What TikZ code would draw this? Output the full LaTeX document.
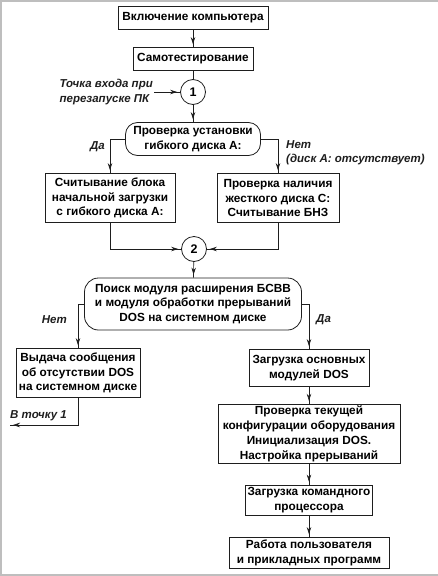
\documentclass[tikz,border=0pt]{standalone}
\usepackage{fontspec}
\setmainfont{Liberation Sans}
\usepackage{tikz}
\usetikzlibrary{arrows.meta,decorations.markings,positioning,calc}
\definecolor{frameGray}{RGB}{190,190,190}
\definecolor{lineDark}{RGB}{30,30,30}
\tikzset{
  stepbox/.style={
    rectangle, draw=lineDark, line width=0.8pt, fill=white,
    align=center, inner sep=2pt, font=\fontsize{11.8}{14.8}\selectfont\bfseries
  },
  askbox/.style={
    stepbox, rounded corners=12pt
  },
  joint/.style={
    circle, draw=lineDark, line width=0.8pt, minimum size=25pt, inner sep=0pt,
    font=\fontsize{12.5}{14}\selectfont\bfseries
  },
  flowArrow/.style={
    draw=lineDark, line width=0.6pt,
    decoration={markings, mark=at position -3pt with {\arrow{Stealth[length=7pt,width=4.5pt]}}},
    postaction={decorate}
  },
  flowLine/.style={draw=lineDark, line width=0.6pt}
}

\begin{document}
\begin{tikzpicture}[
    x=1pt, y=-1pt,
    lbl/.style={font=\fontsize{11.5}{14.5}\selectfont\bfseries\itshape, color=lineDark, inner sep=1pt}
  ]
    \useasboundingbox (0,0) rectangle (438,576);
    \draw[frameGray, line width=1.5pt] (438,0.75) -- (0.75,0.75) -- (0.75,575) -- (438,575);

    % top of the chain
    \node[stepbox, minimum width=150pt, minimum height=23pt] (poweron) at (193,18) {Включение компьютера};
    \node[stepbox, minimum width=120pt, minimum height=23pt] (selftest) at (193,59) {Самотестирование};
    \node[joint] (j1) at (193,92) {1};
    \node[lbl, align=left, anchor=east] (entry) at (154,92) {Точка входа при\\перезапуске ПК};
    \draw[flowArrow] (poweron) -- (selftest);
    \draw[flowLine] (selftest) -- (j1);
    \draw[flowArrow] (entry) -- (j1);

    % floppy or hard disk
    \node[askbox, minimum width=135pt, minimum height=33pt] (floppy) at (193,139) {Проверка установки\\гибкого диска А:};
    \node[stepbox, minimum width=130pt, minimum height=49pt] (bootA) at (110,198) {Считывание блока\\начальной загрузки\\с гибкого диска А:};
    \node[stepbox, minimum width=122pt, minimum height=49pt] (bootC) at (278,198) {Проверка наличия\\жесткого диска С:\\Считывание БНЗ};
    \node[joint] (j2) at (194,249) {2};
    \node[lbl, anchor=east] (yesA) at (106,147) {Да};
    \node[lbl, align=left, anchor=north west] (noA) at (285,139) {Нет\\(диск А: отсутствует)};
    \draw[flowArrow] (j1) -- (floppy);
    \draw[flowArrow] (floppy.west) -| (bootA.north);
    \draw[flowArrow] (floppy.east) -| (bootC.north);
    \draw[flowArrow] (bootA.south) |- (j2.west);
    \draw[flowArrow] (bootC.south) |- (j2.east);

    % DOS search
    \node[askbox, minimum width=217pt, minimum height=52pt, rounded corners=14pt] (dosfind) at (193,304) {Поиск модуля расширения БСВВ\\и модуля обработки прерываний\\DOS на системном диске};
    \draw[flowArrow] (j2) -- (dosfind);
    \node[stepbox, minimum width=124pt, minimum height=49pt] (nodos) at (78,373) {Выдача сообщения\\об отсутствии DOS\\на системном диске};
    \node[lbl, anchor=east] (noDos) at (68,320) {Нет};
    \node[lbl, anchor=west] (goto1) at (9,416) {В точку 1};
    \coordinate (back) at (10,425);
    \draw[flowArrow] (dosfind.west) -| (nodos.north);
    \draw[flowArrow] (nodos.south) |- (back);

    % right column
    \node[stepbox, minimum width=120pt, minimum height=37pt] (loadDos) at (309,368) {Загрузка основных\\модулей DOS};
    \node[stepbox, minimum width=182pt, minimum height=57pt] (config) at (309,434) {Проверка текущей\\конфигурации оборудования\\Инициализация DOS.\\Настройка прерываний};
    \node[stepbox, minimum width=124pt, minimum height=30pt] (shell) at (309,500) {Загрузка командного\\процессора};
    \node[stepbox, minimum width=160pt, minimum height=31pt] (userwork) at (309,553) {Работа пользователя\\и прикладных программ};
    \node[lbl, anchor=west] (yesDos) at (315,320) {Да};
    \draw[flowArrow] (dosfind.east) -| (loadDos.north);
    \draw[flowArrow] (loadDos) -- (config);
    \draw[flowArrow] (config) -- (shell);
    \draw[flowArrow] (shell) -- (userwork);
  \end{tikzpicture}
\end{document}
